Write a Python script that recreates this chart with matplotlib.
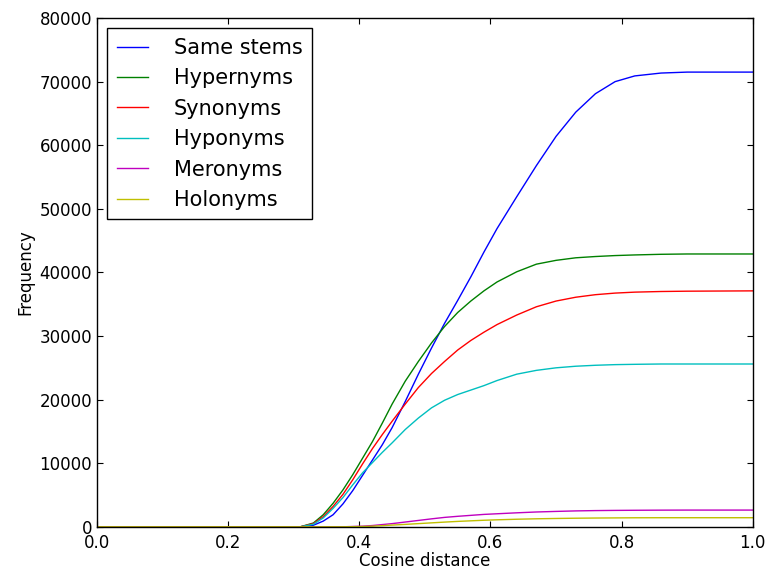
import matplotlib
matplotlib.use("Agg")
import matplotlib.pyplot as plt

# cosine distance sample points
dist = [0.0, 0.31, 0.33, 0.345, 0.36, 0.375, 0.39, 0.405, 0.42, 0.435,
        0.45, 0.47, 0.49, 0.51, 0.53, 0.55, 0.57, 0.59, 0.61, 0.64,
        0.67, 0.70, 0.73, 0.76, 0.79, 0.82, 0.86, 0.90, 1.0]

# frequencies in thousands
same_stems = [0, 0, 0.25, 0.9, 1.9, 3.6, 5.7, 8.1, 10.5, 12.9,
              15.6, 19.7, 24.0, 28.1, 32.0, 35.6, 39.3, 43.2, 46.9, 51.9,
              56.8, 61.4, 65.2, 68.1, 70.0, 70.9, 71.35, 71.5, 71.5]
hypernyms = [0, 0, 0.6, 1.9, 3.7, 5.8, 8.2, 10.8, 13.4, 16.3,
             19.3, 22.9, 26.0, 28.9, 31.5, 33.7, 35.5, 37.1, 38.5, 40.1,
             41.3, 41.9, 42.3, 42.5, 42.65, 42.75, 42.85, 42.9, 42.9]
synonyms = [0, 0, 0.5, 1.6, 3.2, 5.1, 7.4, 9.9, 12.3, 14.5,
            16.6, 19.3, 21.9, 24.1, 26.0, 27.8, 29.3, 30.6, 31.8, 33.3,
            34.6, 35.5, 36.1, 36.5, 36.75, 36.9, 37.0, 37.05, 37.1]
hyponyms = [0, 0, 0.4, 1.4, 2.9, 4.6, 6.6, 8.5, 10.1, 11.7,
            13.2, 15.3, 17.1, 18.7, 19.9, 20.8, 21.5, 22.2, 23.0, 24.0,
            24.6, 25.0, 25.25, 25.4, 25.5, 25.55, 25.6, 25.6, 25.6]
meronyms = [0, 0, 0, 0, 0, 0, 0.05, 0.1, 0.2, 0.35,
            0.5, 0.75, 1.0, 1.25, 1.48, 1.65, 1.8, 1.95, 2.05, 2.2,
            2.33, 2.42, 2.5, 2.55, 2.58, 2.6, 2.62, 2.63, 2.63]
holonyms = [0, 0, 0, 0, 0, 0, 0.02, 0.05, 0.1, 0.18,
            0.27, 0.38, 0.5, 0.62, 0.74, 0.85, 0.94, 1.03, 1.1, 1.19,
            1.26, 1.31, 1.35, 1.38, 1.4, 1.42, 1.43, 1.43, 1.43]

series = [
    ("Same stems", same_stems, (0, 0, 1)),
    ("Hypernyms", hypernyms, (0, 0.5, 0)),
    ("Synonyms", synonyms, (1, 0, 0)),
    ("Hyponyms", hyponyms, (0, 0.75, 0.75)),
    ("Meronyms", meronyms, (0.75, 0, 0.75)),
    ("Holonyms", holonyms, (0.75, 0.75, 0)),
]

fig = plt.figure(figsize=(7.67, 5.71), dpi=100)
ax = fig.add_axes([0.1265, 0.0774, 0.855, 0.891])

for name, vals, col in series:
    ax.plot(dist, [v * 1000 for v in vals], color=col, linewidth=1, label=name)

ax.set_xlim(0, 1)
ax.set_ylim(0, 80000)
ax.set_xticks([0.0, 0.2, 0.4, 0.6, 0.8, 1.0])
ax.set_yticks(range(0, 80001, 10000))
ax.tick_params(direction="in", top=True, right=True, length=4, labelsize=12)
ax.tick_params(axis="x", pad=5)
for s in ax.spines.values():
    s.set_linewidth(1)
    s.set_color("black")

ax.set_xlabel("Cosine distance", fontsize=12, labelpad=0)
ax.set_ylabel("Frequency", fontsize=12)

leg = ax.legend(loc="upper left", fontsize=15, fancybox=False, framealpha=1,
                edgecolor="black", handlelength=1.5, labelspacing=0.5,
                borderaxespad=0.5, handletextpad=1.25, borderpad=0.45)
leg.get_frame().set_linewidth(1)

fig.savefig("out.png", dpi=100)
